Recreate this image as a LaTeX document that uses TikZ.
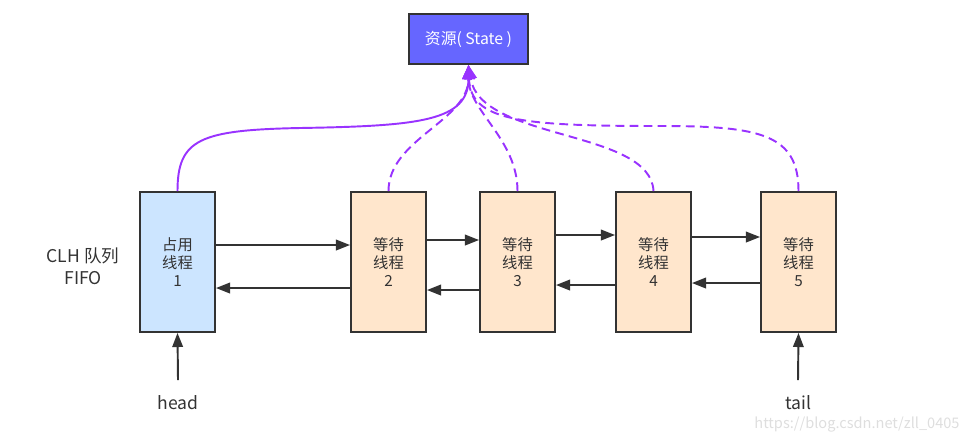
\documentclass[tikz,border=0pt]{standalone}
\usepackage{fontspec}
\setmainfont{Noto Sans CJK SC}
\usepackage{tikz}
\usetikzlibrary{arrows.meta, positioning, calc}
\definecolor{statepurple}{RGB}{102, 102, 255}
\definecolor{holdblue}{RGB}{204, 229, 255}
\definecolor{waitorange}{RGB}{255, 230, 204}
\definecolor{linkgray}{RGB}{51, 51, 51}
\definecolor{wakeviolet}{RGB}{153, 51, 255}

\tikzset{
  thread/.style={rectangle, draw=linkgray, line width=1.1pt, minimum width=1.5cm, minimum height=2.8cm, align=center, text=linkgray, font=\fontsize{8.7}{10.3}\selectfont},
  statebox/.style={rectangle, draw=linkgray, line width=1.1pt, fill=statepurple, text=white, minimum width=2.38cm, minimum height=1.0cm, font=\fontsize{9}{11}\selectfont},
  link/.style={-{Triangle[length=8pt, width=6pt]}, line width=1.1pt, linkgray},
  wake/.style={-{Triangle[length=8pt, width=7pt]}, line width=1.1pt, wakeviolet},
  wakedash/.style={wake, dash pattern=on 5pt off 3pt},
  caption/.style={text=linkgray, align=center, font=\fontsize{10}{12.5}\selectfont}
}

\begin{document}
\begin{tikzpicture}[x=0.02cm, y=-0.02cm]
    \useasboundingbox (0,0) rectangle (969,444);
    \node[statebox] (state) at (468.5,39) {资源( State )};
    \node[thread, fill=holdblue] (t1) at (177.5,262) {占用\\线程\\1};
    \node[thread, fill=waitorange] (t2) at (388.5,262) {等待\\线程\\2};
    \node[thread, fill=waitorange] (t3) at (517.5,262) {等待\\线程\\3};
    \node[thread, fill=waitorange] (t4) at (653.5,262) {等待\\线程\\4};
    \node[thread, fill=waitorange] (t5) at (798.5,262) {等待\\线程\\5};
    \node[caption] (clh) at (83,266) {CLH 队列\\FIFO};
    \node[caption] (headlbl) at (178,403) {head};
    \node[caption] (taillbl) at (798,403) {tail};
    \node[text=black!13, font=\fontsize{8.3}{10}\selectfont] (mark) at (857,425) {https://blog.csdn.net/zll\_0405};
    \coordinate (headend) at (178,380);
    \coordinate (tailend) at (798,380);
    \coordinate (bend1) at (300,128);
    \coordinate (bend5) at (660,126);
    % queue links
    \draw[link] ($(t1.east)+(0,-17)$) -- ($(t2.west)+(0,-17)$);
    \draw[link] ($(t2.west)+(0,26)$) -- ($(t1.east)+(0,26)$);
    \draw[link] ($(t2.east)+(0,-22)$) -- ($(t3.west)+(0,-22)$);
    \draw[link] ($(t3.west)+(0,28)$) -- ($(t2.east)+(0,28)$);
    \draw[link] ($(t3.east)+(0,-27)$) -- ($(t4.west)+(0,-27)$);
    \draw[link] ($(t4.west)+(0,23)$) -- ($(t3.east)+(0,23)$);
    \draw[link] ($(t4.east)+(0,-25)$) -- ($(t5.west)+(0,-25)$);
    \draw[link] ($(t5.west)+(0,21)$) -- ($(t4.east)+(0,21)$);
    \draw[link] (headend) -- (t1.south);
    \draw[link] (tailend) -- (t5.south);
    % state
    \draw[wakedash] (t2.north) .. controls +(0,-52) and +(0,56) .. (state.south);
    \draw[wakedash] (t3.north) .. controls +(0,-52) and +(0,46) .. (state.south);
    \draw[wakedash] (t4.north) .. controls +(-3,-62) and +(12,76) .. (state.south);
    \draw[wakedash] (t5.north) .. controls +(0,-57) and +(100,0) .. (bend5) .. controls +(-140,0) and +(2,56) .. (state.south);
    \draw[wake] (t1.north) .. controls +(0,-52) and +(-100,2) .. (bend1) .. controls +(120,-2) and +(0,56) .. (state.south);
\end{tikzpicture}
\end{document}
